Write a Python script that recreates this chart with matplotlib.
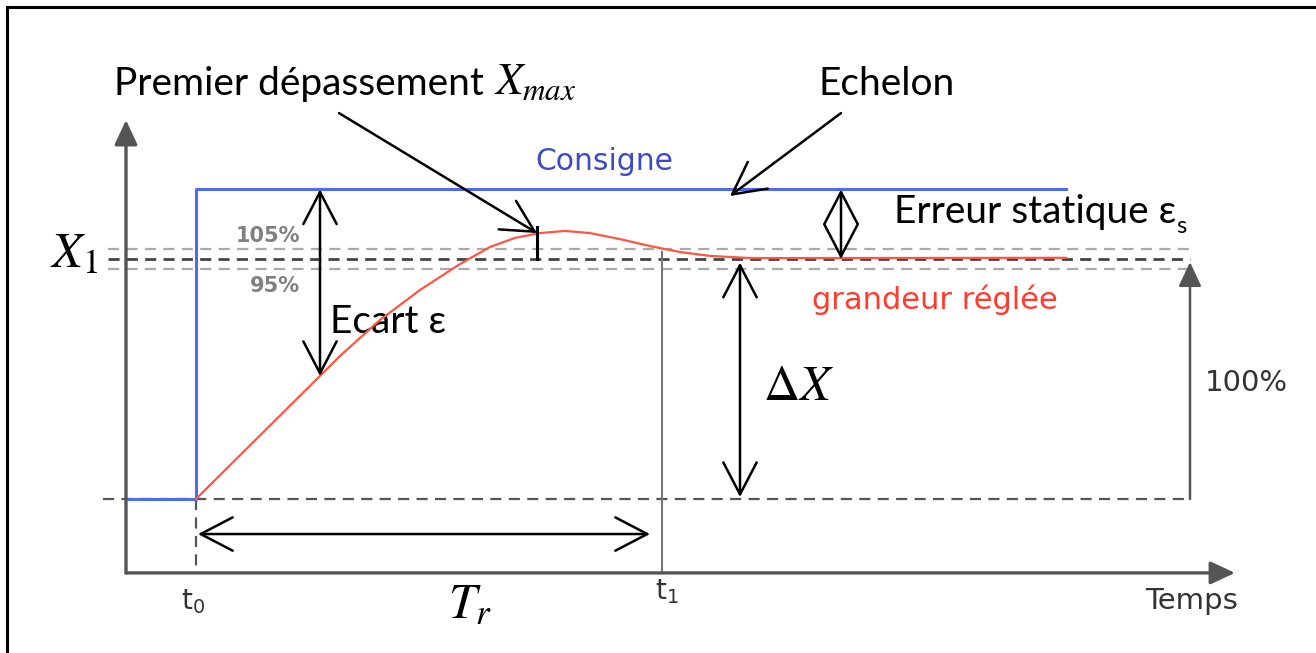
import numpy as np
import matplotlib
matplotlib.use('Agg')
from matplotlib import pyplot as plt
from matplotlib.patches import FancyArrowPatch

plt.rcParams['mathtext.fontset'] = 'stix'

# temps : t0 = 0 (1 unite = 100 px du schema), grandeur : depart = 0, X1 = 1
t0 = 0.0
t1 = 4.66
t_fin = 8.70
niveau_consigne = 1.29
niveau_x1 = 1.0
bande_haut = 1.042   # 105%
bande_bas = 0.958    # 95%

consigne_t = [-0.70, t0, t0, t_fin]
consigne_v = [0.0, 0.0, niveau_consigne, niveau_consigne]

reponse_t = [0.00, 1.24, 1.44, 1.84, 2.24, 2.64, 2.94, 3.19, 3.44, 3.69,
             3.94, 4.24, 4.54, 4.84, 5.14, 5.54, 6.44, 8.70]
reponse_v = [0.000, 0.513, 0.596, 0.746, 0.871, 0.979, 1.050, 1.088, 1.108, 1.117,
             1.108, 1.083, 1.054, 1.029, 1.013, 1.004, 1.004, 1.005]

t_max = 3.41          # premier depassement
v_max = 1.133
t_ecart = 1.24
t_erreur = 6.45
t_delta = 5.44
t_cent = 9.94         # fleche 100%

bleu = '#4f6cf0'
rouge = '#ff5544'
gris = '#555555'
calibri = ['Lato', 'DejaVu Sans']

fig = plt.figure(figsize=(13.16, 6.53), dpi=100)
ax = fig.add_axes([0, 0, 1, 1])
ax.set_xlim(-1.96, 11.20)
ax.set_ylim(-0.6417, 2.0792)
ax.axis('off')

# cadre (haut et gauche)
ax.plot([0.005, 1.0], [0.989, 0.989], color='black', lw=2.2, transform=ax.transAxes)
ax.plot([0.0053, 0.0053], [0.0, 0.989], color='black', lw=2.2, transform=ax.transAxes)


def fleche(p0, p1, style, lw=1.8, color='black'):
    ax.add_patch(FancyArrowPatch(p0, p1, arrowstyle=style, mutation_scale=20,
                                 lw=lw, color=color, shrinkA=0, shrinkB=0, zorder=5))


double = '<->,head_length=1.15,head_width=0.6'
simple = '->,head_length=1.15,head_width=0.6'
pleine = '-|>,head_length=0.75,head_width=0.35'

# axes
y_axe = -0.308
fleche((-0.70, y_axe), (-0.70, 1.579), pleine, lw=2.4, color=gris)
fleche((-0.70, y_axe), (10.39, y_axe), pleine, lw=2.4, color=gris)

# lignes pointillees
ax.plot([-0.88, 9.94], [bande_haut, bande_haut], color='#aaaaaa', lw=1.6, dashes=(5, 3.3))
ax.plot([-0.88, 9.94], [bande_bas, bande_bas], color='#aaaaaa', lw=1.6, dashes=(5, 3.3))
ax.plot([-0.88, 9.94], [niveau_x1, niveau_x1], color='#444444', lw=2.0, dashes=(4, 2.6))
ax.plot([-0.93, t_cent], [0, 0], color=gris, lw=1.6, dashes=(5, 3.3))
ax.plot([t0, t0], [0, y_axe], color=gris, lw=1.6, dashes=(5, 3.3))
ax.plot([t1, t1], [1.03, y_axe], color='#777777', lw=1.5)

# consigne et grandeur reglee
ax.plot(consigne_t, consigne_v, color=bleu, lw=2.2, zorder=3)
ax.plot(reponse_t, reponse_v, color=rouge, lw=1.6, zorder=4)

# fleches
fleche((t_cent, 0), (t_cent, 0.9875), pleine, lw=1.8, color=gris)
fleche((t_ecart, niveau_consigne), (t_ecart, 0.5125), double)
fleche((t_erreur, niveau_consigne), (t_erreur, niveau_x1), double)
fleche((t_delta, 0.985), (t_delta, 0.008), double)
fleche((0.02, -0.146), (4.54, -0.146), double)
fleche((1.43, 1.608), (t_max, 1.108), simple)
fleche((6.45, 1.608), (5.34, 1.2625), simple)
ax.plot([t_max, t_max], [v_max, niveau_x1], color='black', lw=2.2, zorder=5)

# textes
prem = ax.text(-0.82, 1.683, 'Premier dépassement ', fontsize=28, family=calibri,
               ha='left', va='baseline')
ax.annotate('$X_{max}$', xy=(1, 0), xycoords=prem, xytext=(0, 6), textcoords='offset points',
            fontsize=32, ha='left', va='baseline')
ax.text(6.22, 1.683, 'Echelon', fontsize=28, family=calibri, ha='left', va='baseline')
ax.text(3.39, 1.371, 'Consigne', fontsize=21.5, color='#3b4cc0', ha='left', va='baseline')
err = ax.text(6.98, 1.15, 'Erreur statique ε', fontsize=28, family=calibri,
              ha='left', va='baseline')
ax.annotate('s', xy=(1, 0), xycoords=err, xytext=(0, -2), textcoords='offset points',
            fontsize=17, family=calibri, ha='left', va='baseline')
ax.text(1.34, 0.692, 'Ecart ε', fontsize=28, family=calibri, ha='left', va='baseline')
ax.text(0.72, 1.096, '105%', fontsize=15, weight='bold', color='#808080', ha='center', va='center')
ax.text(0.79, 0.8875, '95%', fontsize=15, weight='bold', color='#808080', ha='center', va='center')
ax.text(-1.46, 0.967, '$X_1$', fontsize=36, ha='left', va='baseline')
ax.text(6.16, 0.829, 'grandeur réglée', fontsize=22, color='#ff3b2f', ha='left', va='center')
ax.text(5.67, 0.4125, r'$\Delta X$', fontsize=36, ha='left', va='baseline')
ax.text(10.09, 0.483, '100%', fontsize=21, color='#333333', ha='left', va='center')
ax.text(2.52, -0.496, '$T_r$', fontsize=36, ha='left', va='baseline')
ax.text(-0.03, -0.429, r'$\mathregular{t_0}$', fontsize=20, color='#333333', ha='center', va='center')
ax.text(4.71, -0.3875, r'$\mathregular{t_1}$', fontsize=20, color='#333333', ha='center', va='center')
ax.text(9.96, -0.425, 'Temps', fontsize=21, color='#333333', ha='center', va='center')

fig.savefig('out.png', dpi=100)
